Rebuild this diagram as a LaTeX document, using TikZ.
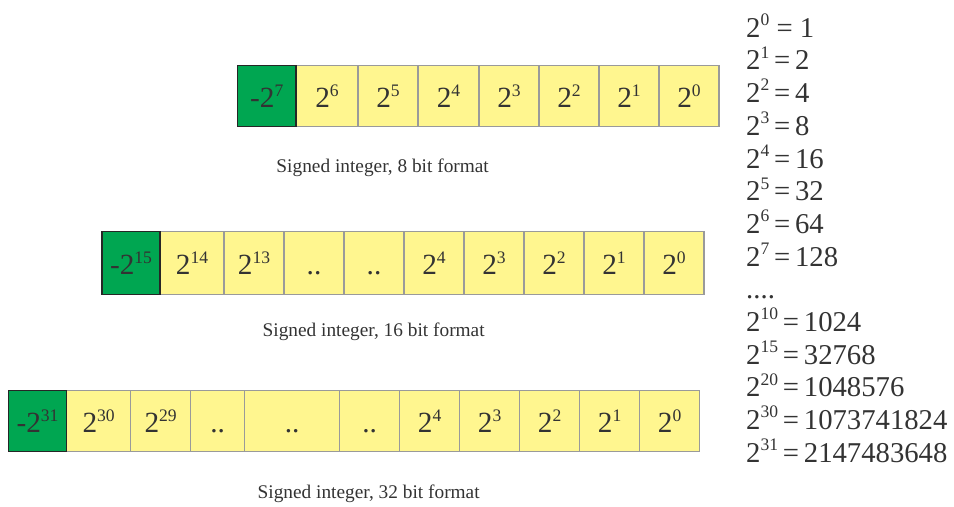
\documentclass[tikz,border=0pt]{standalone}
\usepackage{fontspec}
\setmainfont{Liberation Serif}
\usetikzlibrary{positioning}
\definecolor{SignGreen}{HTML}{00A651}
\definecolor{BitYellow}{HTML}{FFF68F}
\definecolor{CellGray}{HTML}{9A9A9A}
\definecolor{InkGray}{HTML}{333333}
\newcommand{\pwr}[1]{\raisebox{10pt}{\fontsize{15}{15}\selectfont #1}}
\newcommand{\cellfont}{\fontsize{25}{30}\selectfont}
\newcommand{\colfont}{\fontsize{24.5}{27.9}\selectfont}
\newcommand{\capfont}{\fontsize{16.5}{20}\selectfont}
\tikzset{
  bitcell/.style={draw=CellGray,line width=0.9pt,fill=BitYellow,minimum width=1.8cm,minimum height=1.83cm,
    inner sep=0pt,outer sep=0pt,text height=0.72cm,text depth=0pt,font=\cellfont,text=InkGray},
  signbit/.style={bitcell,draw=black!85,line width=1.2pt,fill=SignGreen,minimum width=1.75cm},
  caption/.style={anchor=base,font=\capfont,text=InkGray}
}

\begin{document}
\begin{tikzpicture}
\useasboundingbox (0,0) rectangle (28.62,15.21);
\node[bitcell,minimum width=1.86cm] (a6) at (9.81,12.33) {2\pwr{6}};
\node[bitcell,right=0pt of a6] (a5) {2\pwr{5}};
\node[bitcell,right=0pt of a5,minimum width=1.83cm] (a4) {2\pwr{4}};
\node[bitcell,right=0pt of a4] (a3) {2\pwr{3}};
\node[bitcell,right=0pt of a3] (a2) {2\pwr{2}};
\node[bitcell,right=0pt of a2] (a1) {2\pwr{1}};
\node[bitcell,right=0pt of a1] (a0) {2\pwr{0}};
\node[signbit,left=0pt of a6] (a7) {-2\pwr{7}};
\node[caption] (cap8) at (11.48,10.03) {Signed integer, 8 bit format};

\node[bitcell,minimum width=1.92cm,minimum height=1.88cm] (b14) at (5.76,7.32) {2\pwr{14}};
\node[bitcell,minimum height=1.88cm,right=0pt of b14] (b13) {2\pwr{13}};
\node[bitcell,minimum height=1.88cm,right=0pt of b13] (bd1) {..};
\node[bitcell,minimum height=1.88cm,right=0pt of bd1] (bd2) {..};
\node[bitcell,minimum height=1.88cm,right=0pt of bd2] (b4) {2\pwr{4}};
\node[bitcell,minimum height=1.88cm,right=0pt of b4] (b3) {2\pwr{3}};
\node[bitcell,minimum height=1.88cm,right=0pt of b3] (b2) {2\pwr{2}};
\node[bitcell,minimum height=1.88cm,right=0pt of b2] (b1) {2\pwr{1}};
\node[bitcell,minimum height=1.88cm,right=0pt of b1] (b0) {2\pwr{0}};
\node[signbit,minimum height=1.88cm,minimum width=1.74cm,left=0pt of b14] (b15) {-2\pwr{15}};
\node[caption] (cap16) at (11.21,5.11) {Signed integer, 16 bit format};

\node[bitcell,minimum width=1.92cm] (c30) at (2.96,2.58) {2\pwr{30}};
\node[bitcell,right=0pt of c30] (c29) {2\pwr{29}};
\node[bitcell,right=0pt of c29,minimum width=1.62cm] (cd1) {..};
\node[bitcell,right=0pt of cd1,minimum width=2.85cm] (cd2) {..};
\node[bitcell,right=0pt of cd2] (cd3) {..};
\node[bitcell,right=0pt of cd3] (c4) {2\pwr{4}};
\node[bitcell,right=0pt of c4] (c3) {2\pwr{3}};
\node[bitcell,right=0pt of c3] (c2) {2\pwr{2}};
\node[bitcell,right=0pt of c2] (c1) {2\pwr{1}};
\node[bitcell,right=0pt of c1] (c0) {2\pwr{0}};
\node[signbit,left=0pt of c30] (c31) {-2\pwr{31}};
\node[caption] (cap32) at (11.06,0.24) {Signed integer, 32 bit format};

\node[anchor=north west,inner sep=0pt,align=left,font=\colfont,text=InkGray] (powers) at (22.38,14.80) {%
2\pwr{0} = 1\\
2\pwr{1}\,=\,2\\
2\pwr{2}\,=\,4\\
2\pwr{3}\,=\,8\\
2\pwr{4}\,=\,16\\
2\pwr{5}\,=\,32\\
2\pwr{6}\,=\,64\\
2\pwr{7}\,=\,128\\
....\\
2\pwr{10}\,=\,1024\\
2\pwr{15}\,=\,32768\\
2\pwr{20}\,=\,1048576\\
2\pwr{30}\,=\,1073741824\\
2\pwr{31}\,=\,2147483648};
\end{tikzpicture}
\end{document}
